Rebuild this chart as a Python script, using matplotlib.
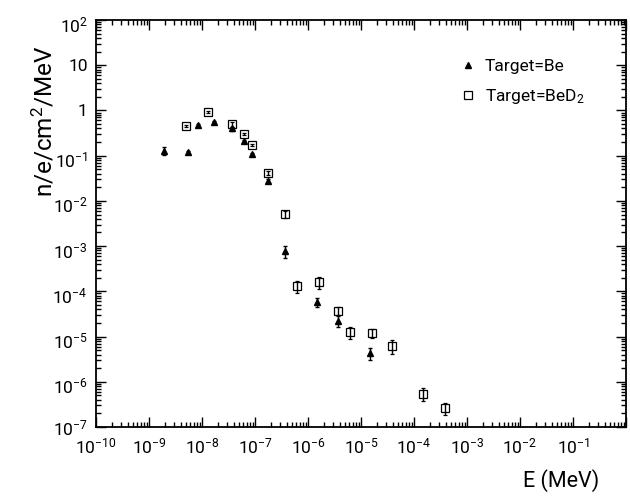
import matplotlib
matplotlib.use('Agg')
import math
import matplotlib.pyplot as plt
import matplotlib.transforms as mtrans
from matplotlib.ticker import LogLocator, FuncFormatter, NullFormatter
from matplotlib.lines import Line2D

plt.rcParams['font.family'] = ['Roboto', 'DejaVu Sans']
plt.rcParams['mathtext.fontset'] = 'custom'
plt.rcParams['mathtext.rm'] = 'Roboto'
plt.rcParams['mathtext.it'] = 'Roboto'
plt.rcParams['mathtext.bf'] = 'Roboto'

# Target = Be (filled triangles)
e_be = [1.9e-9, 5.5e-9, 8.3e-9, 1.7e-8, 3.7e-8, 6.2e-8, 8.7e-8, 1.74e-7,
        3.7e-7, 1.5e-6, 3.7e-6, 1.5e-5]
n_be = [0.13, 0.12, 0.47, 0.55, 0.40, 0.21, 0.107, 0.028,
        7.8e-4, 5.9e-5, 2.2e-5, 4.3e-6]
err_be = [0.026, 0.01, 0.03, 0.03, 0.04, 0.015, 0.008, 0.002,
          2.4e-4, 1.4e-5, 6e-6, 1.2e-6]

# Target = BeD2 (open squares)
e_bed2 = [4.9e-9, 1.28e-8, 3.7e-8, 6.2e-8, 8.7e-8, 1.74e-7, 3.7e-7, 6.2e-7,
          1.6e-6, 3.7e-6, 6.2e-6, 1.6e-5, 3.8e-5, 1.5e-4, 3.8e-4]
n_bed2 = [0.45, 0.91, 0.49, 0.30, 0.17, 0.041, 5.1e-3, 1.29e-4,
          1.6e-4, 3.7e-5, 1.26e-5, 1.2e-5, 6.2e-6, 5.5e-7, 2.6e-7]
err_bed2 = [0.03, 0.05, 0.06, 0.02, 0.01, 0.004, 1.0e-3, 3.9e-5,
            4.6e-5, 7.4e-6, 3.8e-6, 2.8e-6, 2.0e-6, 1.75e-7, 7.8e-8]

fig = plt.figure(figsize=(6.3, 4.96), dpi=100)
ax = fig.add_axes([96 / 630, 69 / 496, 530 / 630, 407 / 496])

ax.errorbar(e_be, n_be, yerr=err_be, fmt='^', color='black', ms=5,
            elinewidth=1.0, capsize=1.5, capthick=1.0)
ax.errorbar(e_bed2, n_bed2, yerr=err_bed2, fmt='s', color='black', ms=5.5,
            mfc='none', mew=0.9, elinewidth=1.0, capsize=1.5, capthick=1.0)

ax.set_xscale('log')
ax.set_yscale('log')
ax.set_xlim(1e-10, 1)
ax.set_ylim(1e-7, 1e2)


def xfmt(v, pos):
    k = int(round(math.log10(v)))
    if k >= 0:
        return ''
    return r'$10^{%d}$' % k


def yfmt(v, pos):
    k = int(round(math.log10(v)))
    if k == 0:
        return '1'
    if k == 1:
        return '10'
    return r'$10^{%d}$' % k


ax.xaxis.set_major_locator(LogLocator(base=10, numticks=20))
ax.yaxis.set_major_locator(LogLocator(base=10, numticks=20))
ax.xaxis.set_minor_locator(LogLocator(base=10, subs=range(2, 10), numticks=100))
ax.yaxis.set_minor_locator(LogLocator(base=10, subs=range(2, 10), numticks=100))
ax.xaxis.set_major_formatter(FuncFormatter(xfmt))
ax.yaxis.set_major_formatter(FuncFormatter(yfmt))
ax.xaxis.set_minor_formatter(NullFormatter())
ax.yaxis.set_minor_formatter(NullFormatter())

ax.tick_params(which='both', direction='in', top=True, right=True,
               labelsize=12.5, width=1.0)
ax.tick_params(which='major', length=7)
ax.tick_params(which='minor', length=3.5)
ax.tick_params(axis='x', which='major', pad=7)
ax.tick_params(axis='y', which='major', pad=6)
for s in ax.spines.values():
    s.set_linewidth(1.3)

fig.text(599 / 630, 1 - 481 / 496, 'E (MeV)', fontsize=15.5, ha='right', va='center')
fig.text(44 / 630, 1 - 121 / 496, r'n/e/cm$^2$/MeV', fontsize=17.5,
         rotation=90, ha='center', va='center')

handles = [
    Line2D([], [], marker='^', ls='none', color='black', ms=5),
    Line2D([], [], marker='s', ls='none', color='black', ms=5.5, mfc='none', mew=0.9),
]
ax.legend(handles, ['Target=Be', r'Target=BeD$_2$'], loc='upper left',
          bbox_to_anchor=(0.685, 0.905), frameon=False, fontsize=12.5,
          handlelength=1.0, handletextpad=0.5, labelspacing=0.75,
          borderpad=0, borderaxespad=0)

# keep the "10" of each y label near its tick, exponent sitting above
# (bottom label left in place so it clears the x labels)
fig.canvas.draw()
shift = mtrans.ScaledTranslation(0, -2.5 / 72, fig.dpi_scale_trans)
for t in ax.yaxis.get_major_ticks():
    txt = t.label1.get_text()
    if '^' in txt and '-7' not in txt:
        t.label1.set_transform(t.label1.get_transform() + shift)

fig.savefig('out.png', dpi=100)
